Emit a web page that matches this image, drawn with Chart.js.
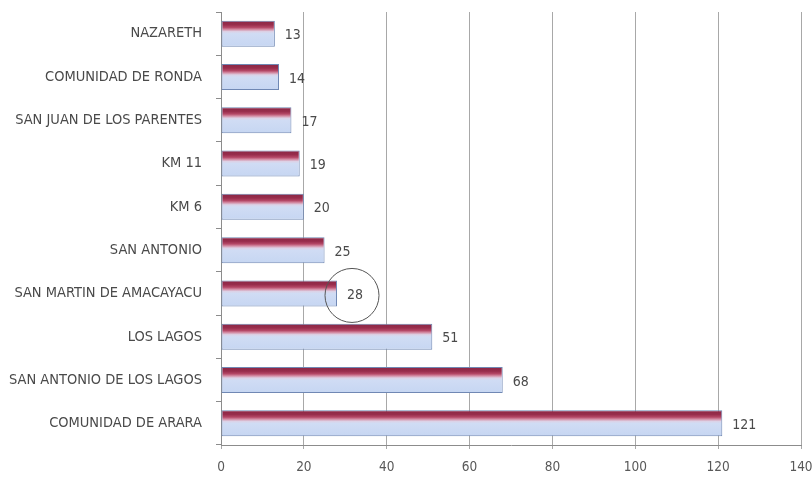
<!DOCTYPE html>
<html>
<head>
<meta charset="utf-8">
<script src="https://cdn.jsdelivr.net/npm/chart.js@4.4.1/dist/chart.umd.min.js"></script>
<style>
  html, body { margin: 0; padding: 0; background: #fff; }
  #wrap { width: 812px; height: 479px; }
</style>
</head>
<body>
<div id="wrap"><canvas id="myChart" width="812" height="479"></canvas></div>
<script>
// Communities and their counts, top to bottom as in the picture
let communities = [
    'NAZARETH',
    'COMUNIDAD DE RONDA',
    'SAN JUAN DE LOS PARENTES',
    'KM 11',
    'KM 6',
    'SAN ANTONIO',
    'SAN MARTIN DE AMACAYACU',
    'LOS LAGOS',
    'SAN ANTONIO DE LOS LAGOS',
    'COMUNIDAD DE ARARA'
];
let counts = [13, 14, 17, 19, 20, 25, 28, 51, 68, 121];
let xTicks = [0, 20, 40, 60, 80, 100, 120, 140];

// the community that is circled in the original
let circledIndex = 6;

const labelFont = '"Liberation Sans Narrow", "DejaVu Sans Condensed", sans-serif';

// vertical red-to-blue gradient for each bar
function barFill(context) {
    let chart = context.chart;
    let yScale = chart.scales.y;
    if (!chart.chartArea || !yScale) return '#c6d6f0';
    let el = context.element;
    let cy = yScale.getPixelForValue(context.dataIndex);
    let half = (el && el.height) ? el.height / 2 : 13;
    let g = chart.ctx.createLinearGradient(0, cy - half, 0, cy + half);
    g.addColorStop(0, '#8a2644');
    g.addColorStop(0.16, '#982d4c');
    g.addColorStop(0.26, '#b44766');
    g.addColorStop(0.34, '#d48ca4');
    g.addColorStop(0.42, '#dcd2e6');
    g.addColorStop(0.5, '#d0dcf4');
    g.addColorStop(1, '#c6d6f2');
    return g;
}

// value labels right of the bars, plus the hand-drawn circle
const valueLabels = {
    id: 'valueLabels',
    afterDatasetsDraw(chart) {
        let ctx = chart.ctx;
        let meta = chart.getDatasetMeta(0);
        ctx.save();
        ctx.font = '14px ' + labelFont;
        ctx.fillStyle = '#4a4a4a';
        ctx.textBaseline = 'middle';
        meta.data.forEach((bar, i) => {
            ctx.fillText(String(counts[i]), bar.x + 10, bar.y + 2);
        });
        let b = meta.data[circledIndex];
        ctx.strokeStyle = '#555';
        ctx.lineWidth = 1;
        ctx.beginPath();
        ctx.arc(b.x + 15, b.y + 2, 27, 0, Math.PI * 2);
        ctx.stroke();
        ctx.restore();
    }
};

const ctx = document.getElementById('myChart');

new Chart(ctx, {
    type: 'bar',
    data: {
        labels: communities,
        datasets: [{
            data: counts,
            backgroundColor: barFill,
            borderColor: '#7088b4',
            borderWidth: 1,
            borderSkipped: false,
            barPercentage: 0.6,
            categoryPercentage: 1
        }]
    },
    options: {
        indexAxis: 'y',
        responsive: false,
        animation: false,
        layout: { padding: { top: 12, bottom: 4, left: 0, right: 11 } },
        plugins: {
            legend: { display: false },
            tooltip: { enabled: false }
        },
        scales: {
            x: {
                min: 0,
                max: 140,
                afterBuildTicks: s => { s.ticks = xTicks.map(v => ({ value: v })); },
                afterFit: s => { s.paddingRight = 0; s.height = 30; },
                ticks: {
                    color: '#595959',
                    font: { family: labelFont, size: 13.5 },
                    padding: 10
                },
                grid: {
                    color: '#a8a8a8',
                    lineWidth: 1,
                    tickLength: 4
                },
                border: { display: true, color: '#8c8c8c' }
            },
            y: {
                afterFit: s => { s.width = 221; s.paddingTop = 0; s.paddingBottom = 0; },
                ticks: {
                    color: '#4a4a4a',
                    font: { family: labelFont, size: 14.5 },
                    padding: 14
                },
                grid: {
                    display: true,
                    drawOnChartArea: false,
                    offset: true,
                    tickLength: 5,
                    color: '#8c8c8c'
                },
                border: { display: true, color: '#8c8c8c' }
            }
        }
    },
    plugins: [valueLabels]
});
</script>
</body>
</html>
